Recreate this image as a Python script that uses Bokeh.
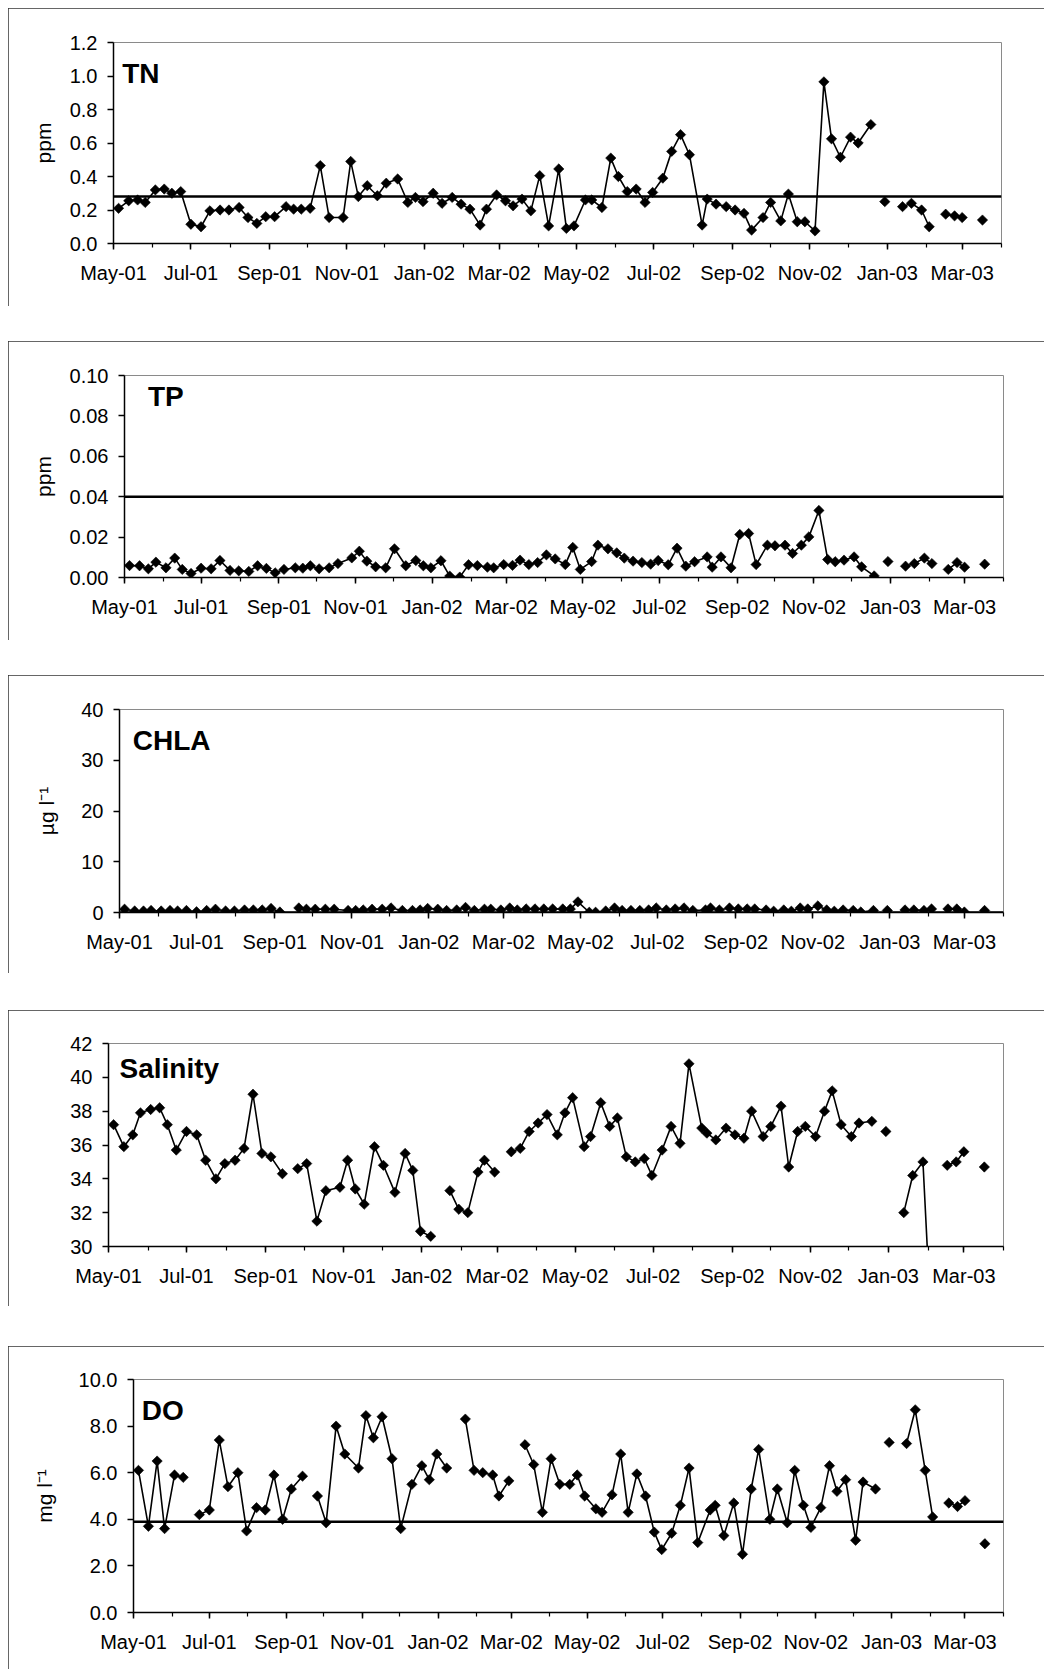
import numpy as np
from bokeh.plotting import figure
from bokeh.models import Range1d, FixedTicker, Span, Label, NumeralTickFormatter
from bokeh.layouts import column
from bokeh.embed import file_html
from bokeh.resources import INLINE

# ---------------- data ----------------
dates = [
    "2001-05-05", "2001-05-13", "2001-05-20", "2001-05-26", "2001-06-03", "2001-06-10", "2001-06-16", "2001-06-23", "2001-07-01", "2001-07-09",
    "2001-07-16", "2001-07-24", "2001-07-31", "2001-08-08", "2001-08-15", "2001-08-22", "2001-08-29", "2001-09-05", "2001-09-14", "2001-09-20",
    "2001-09-26", "2001-10-03", "2001-10-11", "2001-10-18", "2001-10-29", "2001-11-04", "2001-11-10", "2001-11-17", "2001-11-25", "2001-12-02",
    "2001-12-11", "2001-12-19", "2001-12-25", "2001-12-31", "2002-01-08", "2002-01-15", "2002-01-23", "2002-01-30", "2002-02-06", "2002-02-14",
    "2002-02-19", "2002-02-27", "2002-03-06", "2002-03-12", "2002-03-19", "2002-03-26", "2002-04-02", "2002-04-09", "2002-04-17", "2002-04-23",
    "2002-04-29", "2002-05-08", "2002-05-13", "2002-05-21", "2002-05-28", "2002-06-03", "2002-06-10", "2002-06-17", "2002-06-24", "2002-06-30",
    "2002-07-08", "2002-07-15", "2002-07-22", "2002-07-29", "2002-08-08", "2002-08-12", "2002-08-19", "2002-08-27", "2002-09-03", "2002-09-10",
    "2002-09-16", "2002-09-25", "2002-10-01", "2002-10-09", "2002-10-15", "2002-10-22", "2002-10-28", "2002-11-05", "2002-11-12", "2002-11-18",
    "2002-11-25", "2002-12-03", "2002-12-09", "2002-12-19",
    "2002-12-25", "2002-12-30", "2003-01-06", "2003-01-13", "2003-01-20", "2003-01-28", "2003-02-03", "2003-02-10", "2003-02-16", "2003-02-23",
    "2003-03-01", "2003-03-09", "2003-03-17",
]

tn = [
    0.21, 0.255, 0.26, 0.245, 0.32, 0.325, 0.30, 0.31, 0.115, 0.10,
    0.195, 0.20, 0.20, 0.215, 0.155, 0.12, 0.16, 0.16, 0.22, 0.205,
    0.205, 0.21, 0.465, 0.155, 0.155, 0.49, 0.28, 0.345, 0.285, 0.36,
    0.385, 0.245, 0.275, 0.25, 0.30, 0.24, 0.275, 0.235, 0.205, 0.11,
    0.205, 0.29, 0.255, 0.225, 0.265, 0.195, 0.405, 0.105, 0.445, 0.09,
    0.105, 0.26, 0.26, 0.215, 0.51, 0.40, 0.31, 0.325, 0.245, 0.305,
    0.39, 0.55, 0.65, 0.53, 0.11, 0.265, 0.235, 0.22, 0.20, 0.18,
    0.08, 0.155, 0.245, 0.135, 0.295, 0.13, 0.13, 0.075, 0.965, 0.625,
    0.515, 0.635, 0.60, 0.71,
    None, 0.25, None, 0.22, 0.24, 0.20, 0.10, None, 0.175, 0.165, 0.155, None, 0.14,
]

tp = [
    0.0059, 0.0058, 0.0043, 0.0076, 0.0048, 0.0096, 0.0040, 0.0020, 0.0046, 0.0043,
    0.0084, 0.0035, 0.0033, 0.0030, 0.0058, 0.0045, 0.0023, 0.0040, 0.0048, 0.0046,
    0.0058, 0.0043, 0.0048, 0.0069, 0.0097, 0.0130, 0.0081, 0.0053, 0.0048, 0.0142,
    0.0058, 0.0084, 0.0058, 0.0048, 0.0083, 0.0007, 0.0002, 0.0063, 0.0059, 0.0051,
    0.0048, 0.0064, 0.0060, 0.0086, 0.0064, 0.0074, 0.0112, 0.0092, 0.0064, 0.0149,
    0.0040, 0.0079, 0.0160, 0.0142, 0.0122, 0.0096, 0.0081, 0.0074, 0.0066, 0.0084,
    0.0063, 0.0145, 0.0056, 0.0078, 0.0102, 0.0051, 0.0102, 0.0048, 0.0213, 0.0218,
    0.0064, 0.0160, 0.0157, 0.0160, 0.0119, 0.0160, 0.0201, 0.0332, 0.0089, 0.0078,
    0.0086, 0.0102, 0.0053, 0.0008,
    None, 0.0079, None, 0.0056, 0.0069, 0.0096, 0.0069, None, 0.0040, 0.0074, 0.0051, None, 0.0066,
]

chla = [
    0.65, 0.3, 0.3, 0.4, 0.3, 0.4, 0.3, 0.4, 0.15, 0.4,
    0.65, 0.3, 0.3, 0.5, 0.5, 0.5, 0.8, 0.1, None, 0.9,
    0.65, 0.65, 0.65, 0.65, 0.4, 0.4, 0.5, 0.65, 0.65, 0.9,
    0.4, 0.4, 0.5, 0.8, 0.65, 0.4, 0.5, 1.0, 0.4, 0.65,
    0.65, 0.5, 0.9, 0.5, 0.7, 0.7, 0.7, 0.7, 0.7, 0.7,
    2.1, 0.05, 0.05, 0.3, 0.9, 0.4, 0.4, 0.4, 0.5, 0.9,
    0.5, 0.7, 0.9, 0.4, 0.5, 0.9, 0.5, 0.9, 0.7, 0.7,
    0.7, 0.5, 0.26, 0.5, 0.26, 0.9, 0.7, 1.3, 0.5, 0.26,
    0.5, 0.4, 0.1, 0.4,
    None, 0.4, None, 0.5, 0.5, 0.4, 0.7, None, 0.7, 0.7, 0.1, None, 0.4,
]

salinity = [
    37.2, 35.9, 36.6, 37.9, 38.1, 38.2, 37.2, 35.7, 36.8, 36.6,
    35.1, 34.0, 34.9, 35.1, 35.8, 39.0, 35.5, 35.3, 34.3, None,
    34.6, 34.9, 31.5, 33.3, 33.5, 35.1, 33.4, 32.5, 35.9, 34.8,
    33.2, 35.5, 34.5, 30.9, 30.6, None, 33.3, 32.2, 32.0, 34.4,
    35.1, 34.4, None, 35.6, 35.8, 36.8, 37.3, 37.8, 36.6, 37.9,
    38.8, 35.9, 36.5, 38.5, 37.1, 37.6, 35.3, 35.0, 35.2, 34.2,
    35.7, 37.1, 36.1, 40.8, 37.0, 36.7, 36.3, 37.0, 36.6, 36.4,
    38.0, 36.5, 37.1, 38.3, 34.7, 36.8, 37.1, 36.5, 38.0, 39.2,
    37.2, 36.5, 37.3, 37.4,
    None, 36.8, None, 32.0, 34.2, 35.0, 26.0, None, 34.8, 35.0, 35.6, None, 34.7,
]

do = [
    6.1, 3.7, 6.5, 3.6, 5.9, 5.8, None, 4.2, 4.4, 7.4,
    5.4, 6.0, 3.5, 4.5, 4.4, 5.9, 4.0, 5.3, 5.85, None,
    5.0, 3.85, 8.0, 6.8, 6.2, 8.45, 7.5, 8.4, 6.6, 3.6,
    5.5, 6.3, 5.7, 6.8, 6.2, None, 8.3, 6.1, 6.0, 5.9,
    5.0, 5.65, None, 7.2, 6.35, 4.3, 6.6, 5.5, 5.5, 5.9,
    5.0, 4.45, 4.3, 5.05, 6.8, 4.3, 5.95, 5.0, 3.45, 2.7,
    3.4, 4.6, 6.2, 3.0, 4.4, 4.6, 3.3, 4.7, 2.5, 5.3,
    7.0, 4.0, 5.3, 3.85, 6.1, 4.6, 3.65, 4.5, 6.3, 5.2,
    5.7, 3.1, 5.6, 5.3,
    None, 7.3, None, 7.25, 8.7, 6.1, 4.1, None, 4.7, 4.55, 4.8, None, 2.95,
]

tick_labels = ["May-01", "Jul-01", "Sep-01", "Nov-01", "Jan-02", "Mar-02",
               "May-02", "Jul-02", "Sep-02", "Nov-02", "Jan-03", "Mar-03"]

tn_standard = 0.28
tp_standard = 0.04
chla_standard = 0.0
do_standard = 3.9

# ---------------- helpers ----------------
FONT = "Liberation Sans"
W = 1036

base = np.datetime64("2001-05-01")
x = (np.array(dates, dtype="datetime64[D]") - base).astype(float)
months = np.arange(np.datetime64("2001-05"), np.datetime64("2003-05"), dtype="datetime64[M]")
month_x = (months.astype("datetime64[D]") - base).astype(int)
major_x = [int(v) for v in month_x[0:23:2]]
minor_x = [int(v) for v in month_x]
x_end = float(month_x[-1])


def panel(values, y0, y1, ystep, yfmt, ylabel, title, ref, H, frame, title_off,
          ylabel_standoff, top_margin):
    left, right, top, bottom = frame
    p = figure(width=W, height=H, x_range=Range1d(0, x_end), y_range=Range1d(y0, y1),
               output_backend="svg", toolbar_location=None,
               min_border_left=left, min_border_right=right,
               min_border_top=top, min_border_bottom=bottom,
               margin=(top_margin, 0, 0, 8), frame_align=False,
               styles={"outline": "1.5px solid #333333", "outline-offset": "-1.5px"})
    p.background_fill_color = "white"
    p.border_fill_color = "white"
    p.outline_line_color = "#8a8a8a"
    p.outline_line_width = 1
    p.xgrid.visible = False
    p.ygrid.visible = False

    p.xaxis.ticker = FixedTicker(ticks=major_x, minor_ticks=minor_x)
    p.xaxis.major_label_overrides = {t: lab for t, lab in zip(major_x, tick_labels)}
    yt = [float(v) for v in np.round(np.arange(y0, y1 + ystep / 2, ystep), 4)]
    p.yaxis.ticker = FixedTicker(ticks=yt, minor_ticks=[])
    p.yaxis.formatter = NumeralTickFormatter(format=yfmt)

    for ax in (p.xaxis[0], p.yaxis[0]):
        ax.axis_line_color = "black"
        ax.axis_line_width = 1.5
        ax.major_tick_line_color = "black"
        ax.major_tick_line_width = 1.5
        ax.major_tick_in = 0
        ax.major_tick_out = 6
        ax.major_label_text_font = FONT
        ax.major_label_text_font_size = "20px"
        ax.major_label_text_color = "black"
    p.xaxis.minor_tick_in = 0
    p.xaxis.minor_tick_out = 4
    p.xaxis.minor_tick_line_color = "black"
    p.xaxis.minor_tick_line_width = 1.2
    p.yaxis.minor_tick_line_color = None
    p.xaxis.major_label_standoff = 12
    p.yaxis.major_label_standoff = 10
    if ylabel:
        p.yaxis.axis_label = ylabel
        p.yaxis.axis_label_text_font = FONT
        p.yaxis.axis_label_text_font_size = "21px"
        p.yaxis.axis_label_text_font_style = "normal"
        p.yaxis.axis_label_text_color = "black"
        p.yaxis.axis_label_standoff = ylabel_standoff

    if ref is not None:
        p.add_layout(Span(location=ref, dimension="width", line_color="black", line_width=2.5))

    yv = np.array(values, dtype=float)
    p.line(x, yv, line_color="black", line_width=1.6)
    p.scatter(x, yv, marker="square", angle=np.pi / 4, size=7.3,
              fill_color="black", line_color="black", line_width=0.6)

    fw = W - left - right
    fh = H - top - bottom
    tx = title_off[0] * x_end / fw
    ty = y1 - title_off[1] * (y1 - y0) / fh
    p.add_layout(Label(x=tx, y=ty, text=title, text_font=FONT, text_font_size="28px",
                       text_font_style="bold", text_color="black",
                       text_baseline="alphabetic", text_align="left"))
    return p


p1 = panel(tn, 0.0, 1.2, 0.2, "0.0", "ppm", "TN", tn_standard,
           298, (105, 43, 34, 63), (8.7, 31), 12, 8)
p2 = panel(tp, 0.0, 0.1, 0.02, "0.00", "ppm", "TP", tp_standard,
           299, (116, 41, 34, 63), (23.4, 20.5), 12, 35)
p3 = panel(chla, 0.0, 40.0, 10.0, "0", "\u00b5g l\u207b\u00b9", "CHLA", chla_standard,
           298, (111, 41, 34, 61), (13.3, 31), 20, 35)
p4 = panel(salinity, 30.0, 42.0, 2.0, "0", None, "Salinity", None,
           296, (100, 41, 33, 60), (11, 25), 12, 37)
p5 = panel(do, 0.0, 10.0, 2.0, "0.0", "mg l\u207b\u00b9", "DO", do_standard,
           323, (125, 41, 33, 57), (8.3, 31), 20, 40)

layout = column(p1, p2, p3, p4, p5, spacing=0)

with open("out.html", "w") as f:
    f.write(file_html(layout, INLINE))
